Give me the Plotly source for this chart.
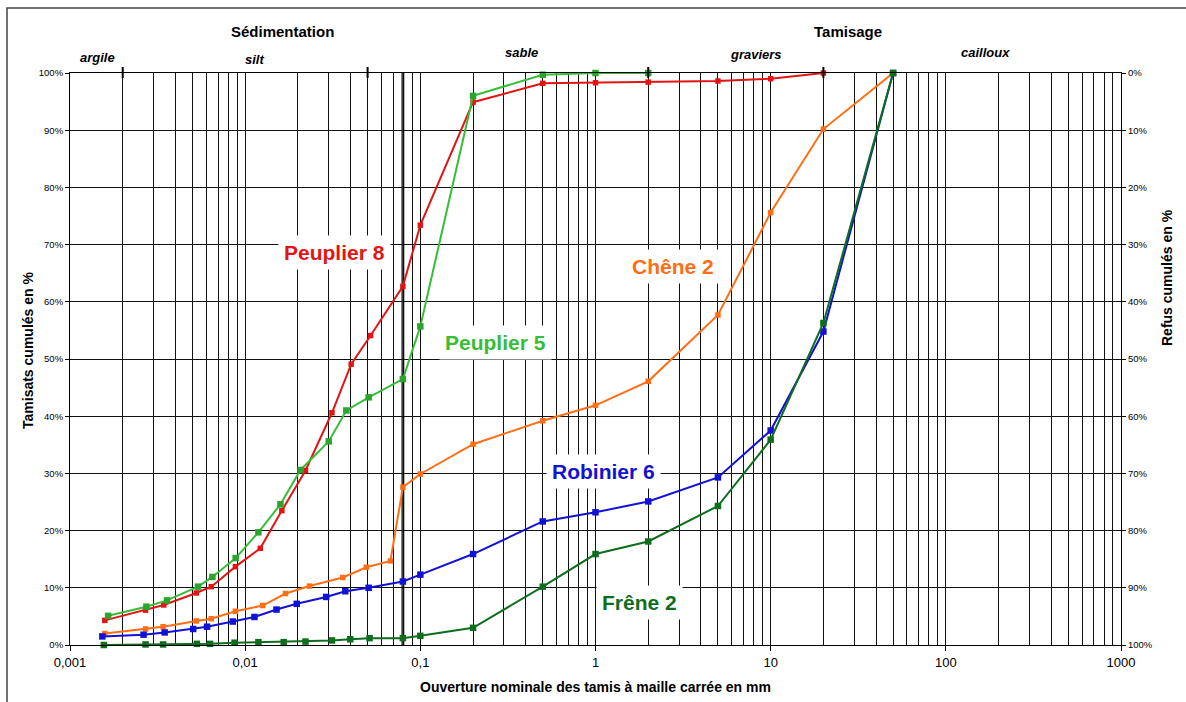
import plotly.graph_objects as go

# ---- data: particle diameter (mm) and cumulative passing (%) ----
p8_d = [0.00158, 0.0027, 0.00343, 0.00526, 0.00641, 0.0088, 0.0122, 0.0162, 0.0221,
        0.0313, 0.0403, 0.052, 0.0795, 0.1, 0.2, 0.5, 1, 2, 5, 10, 20]
p8_pass = [4.3, 6.1, 7.0, 9.1, 10.2, 13.7, 16.9, 23.5, 30.5,
           40.6, 49.1, 54.1, 62.7, 73.4, 94.9, 98.2, 98.3, 98.4, 98.6, 99.0, 100]

p5_d = [0.00165, 0.00273, 0.00358, 0.00538, 0.0065, 0.00883, 0.0119, 0.0159, 0.0207,
        0.0300, 0.0378, 0.0507, 0.0795, 0.1, 0.2, 0.5, 1, 2]
p5_pass = [5.1, 6.7, 7.8, 10.2, 11.9, 15.2, 19.7, 24.6, 30.6,
           35.6, 41.0, 43.3, 46.5, 55.7, 96.0, 99.7, 100, 100]

ch2_d = [0.00158, 0.0027, 0.0034, 0.00526, 0.0064, 0.0088, 0.0126, 0.017, 0.0233,
         0.0361, 0.0492, 0.0675, 0.0795, 0.1, 0.2, 0.5, 1, 2, 5, 10, 20, 50]
ch2_pass = [2.0, 2.8, 3.2, 4.2, 4.6, 5.9, 6.9, 9.0, 10.3,
            11.8, 13.6, 14.7, 27.6, 29.9, 35.1, 39.2, 41.9, 46.1, 57.7, 75.6, 90.2, 100]

rb6_d = [0.00153, 0.00263, 0.00347, 0.00505, 0.00606, 0.0085, 0.0113, 0.0151, 0.0197,
         0.029, 0.0373, 0.0507, 0.0795, 0.1, 0.2, 0.5, 1, 2, 5, 10, 20, 50]
rb6_pass = [1.5, 1.8, 2.2, 2.8, 3.2, 4.1, 4.9, 6.2, 7.2,
            8.4, 9.4, 10.0, 11.1, 12.3, 15.9, 21.6, 23.2, 25.1, 29.3, 37.5, 54.8, 100]

fr2_d = [0.00156, 0.0027, 0.0034, 0.0053, 0.0063, 0.0087, 0.0119, 0.0166, 0.0221,
         0.0313, 0.0398, 0.0513, 0.0795, 0.1, 0.2, 0.5, 1, 2, 5, 10, 20, 50]
fr2_pass = [0.0, 0.1, 0.1, 0.2, 0.2, 0.4, 0.5, 0.5, 0.6,
            0.8, 1.0, 1.2, 1.2, 1.6, 3.0, 10.2, 15.9, 18.1, 24.3, 35.9, 56.3, 100]

# axis labels
x_tickvals = [0.001, 0.01, 0.1, 1, 10, 100, 1000]
x_ticktext = ["0,001", "0,01", "0,1", "1", "10", "100", "1000"]
pct_ticks = list(range(0, 101, 10))
pct_text = [f"{v}%" for v in pct_ticks]

# soil class boundaries (mm)
class_bounds = [0.002, 0.05, 2, 20]
sieve_limit = 0.0795   # sedimentation / sieving split

FONT = "Arial, Liberation Sans, sans-serif"

# ---- canvas geometry ----
W, H = 1186, 702
ML, MR, MT, MB = 70, 65, 73, 57
PW, PH = W - ML - MR, H - MT - MB


def fx(xp):
    return (xp - ML) / PW


def fy(yp):
    return (H - MB - yp) / PH


def label(text, xp, yp, size, color="black", angle=0, **kw):
    return dict(text=text, x=fx(xp), y=fy(yp), xref="paper", yref="paper",
                xanchor="center", yanchor="middle", showarrow=False, textangle=angle,
                font=dict(family=FONT, size=size, color=color), **kw)


series = [
    ("Peuplier 8", p8_d, p8_pass, "#E31414", "#E31414", 5.5),
    ("Peuplier 5", p5_d, p5_pass, "#36BE36", "#2AA62E", 6.5),
    ("Chêne 2", ch2_d, ch2_pass, "#FF6E14", "#FF6E14", 5.5),
    ("Robinier 6", rb6_d, rb6_pass, "#1212D4", "#1212D4", 6.5),
    ("Frêne 2", fr2_d, fr2_pass, "#0E6E1E", "#0E6E1E", 6.5),
]

fig = go.Figure()
for name, d, p, lc, mc, ms in series:
    if name == "Frêne 2":
        # plotted as cumulative retained on the reversed right-hand axis
        yvals, yax = [100 - v for v in p], "y2"
    else:
        yvals, yax = p, "y"
    fig.add_trace(go.Scatter(
        x=d, y=yvals, name=name, mode="lines+markers", yaxis=yax,
        line=dict(color=lc, width=2),
        marker=dict(symbol="square", size=ms, color=mc, line=dict(width=0)),
        cliponaxis=False, showlegend=False,
    ))

minor_vals = [m * 10 ** k for k in range(-3, 3) for m in range(2, 10)]

shapes = []
# thick separator line between sedimentation and sieving
shapes.append(dict(type="line", xref="x", yref="paper", x0=sieve_limit, x1=sieve_limit,
                   y0=0, y1=1, line=dict(color="#3a3a3a", width=3), layer="below"))
# class boundary ticks on the top axis
for b in class_bounds:
    shapes.append(dict(type="line", xref="x", yref="paper", x0=b, x1=b,
                       y0=fy(78), y1=fy(67), line=dict(color="black", width=2)))
# outer chart frame
shapes.append(dict(type="rect", xref="paper", yref="paper",
                   x0=fx(7), x1=1.3, y0=-0.3, y1=fy(8),
                   line=dict(color="#444", width=1.5)))

annotations = []
annotations.append(label("<b>Sédimentation</b>", 282, 31, 15))
annotations.append(label("<b>Tamisage</b>", 848, 31, 15))
for txt, xp, yp in [("argile", 97, 58), ("silt", 254, 59), ("sable", 521, 52),
                    ("graviers", 756, 54), ("cailloux", 985, 52)]:
    annotations.append(label(f"<b><i>{txt}</i></b>", xp, yp, 13))
for (name, d, p, lc, mc, ms), (xp, yp) in zip(series, [(334, 252), (495, 342), (673, 266),
                                                        (603, 471), (639, 602)]):
    annotations.append(label(f"<b>{name}</b>", xp, yp, 21, lc, bgcolor="white", borderpad=5))
annotations.append(label("<b>Tamisats cumulés en %</b>", 28, 351, 14, angle=-90))
annotations.append(label("<b>Refus cumulés en %</b>", 1167, 278, 14, angle=-90))
annotations.append(label("<b>Ouverture nominale des tamis à maille carrée en mm</b>", 595, 687, 14))

GRID = "#111111"
fig.update_layout(
    width=W, height=H,
    margin=dict(l=ML, r=MR, t=MT, b=MB, pad=0),
    paper_bgcolor="white", plot_bgcolor="white",
    font=dict(family=FONT, color="black"),
    xaxis=dict(
        type="log", range=[-3, 3], tickmode="array", tickvals=x_tickvals, ticktext=x_ticktext,
        showgrid=True, gridcolor=GRID, gridwidth=1,
        minor=dict(tickmode="array", tickvals=minor_vals, showgrid=True, gridcolor=GRID,
                   gridwidth=1, ticks=""),
        showline=True, linecolor="black", linewidth=1, mirror=True,
        ticks="outside", ticklen=5, tickcolor="black", tickwidth=1,
        tickfont=dict(family=FONT, size=13, color="black"), zeroline=False,
    ),
    yaxis=dict(
        range=[0, 100], tickmode="array", tickvals=pct_ticks, ticktext=pct_text,
        showgrid=True, gridcolor=GRID, gridwidth=1,
        showline=True, linecolor="black", linewidth=1, mirror=True,
        ticks="outside", ticklen=4, tickcolor="black",
        tickfont=dict(family=FONT, size=9.5, color="black"), zeroline=False,
    ),
    yaxis2=dict(
        overlaying="y", side="right", anchor="x", range=[100, 0],
        tickmode="array", tickvals=pct_ticks, ticktext=pct_text, showgrid=False,
        ticks="outside", ticklen=4, tickcolor="black",
        tickfont=dict(family=FONT, size=9.5, color="black"), zeroline=False,
    ),
    shapes=shapes, annotations=annotations,
)

fig.write_html("out.html")
